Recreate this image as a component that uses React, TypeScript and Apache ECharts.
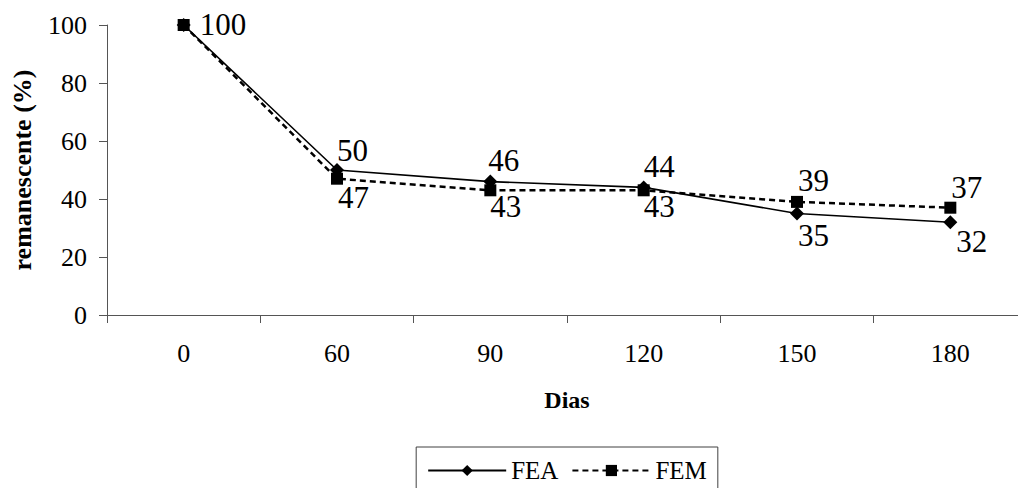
import React, { useEffect, useRef } from "react";
import * as echarts from "echarts";

const categories = ["0", "60", "90", "120", "150", "180"];
const feaValues = [100, 50, 46, 44, 35, 32];
const femValues = [100, 47, 43, 43, 39, 37];
const yTicks = { min: 0, max: 100, interval: 20 };
const seriesNames = ["FEA", "FEM"];

// label offsets relative to the point [dx, dy]; null = no label
const feaLabelOffsets: (number[] | null)[] = [null, [0, -20], [-2, -21], [0, -21], [1, 22], [6, 19]];
const femLabelOffsets: (number[] | null)[] = [[16, -1], [1, 19], [0, 16], [0, 16], [1, -21], [1, -20]];

const FONT = "Liberation Serif";

const richLabel = {
  s: { fontFamily: FONT, fontSize: 31, color: "#000", fontWeight: "normal" },
};

function buildData(values: number[], offsets: (number[] | null)[]) {
  return values.map((v, i) => {
    const off = offsets[i];
    return {
      value: v,
      label: off
        ? {
            show: true,
            position: "inside",
            align: "left",
            verticalAlign: "middle",
            offset: off,
            fontFamily: FONT,
            fontSize: 31,
            color: "#000",
            formatter: "{s|{c}}",
            rich: richLabel,
          }
        : { show: false },
    };
  });
}

export default function App() {
  const ref = useRef<HTMLDivElement>(null);
  useEffect(() => {
    if (!ref.current) return;
    const chart = echarts.init(ref.current, undefined, { renderer: "svg" });
    const labelStyle = {
      color: "#000",
      fontFamily: FONT,
      fontSize: 31,
      formatter: "{s|{c}}",
      rich: richLabel,
    };
    chart.setOption({
      animation: false,
      backgroundColor: "#fff",
      textStyle: { fontFamily: FONT, color: "#000" },
      grid: { left: 107, right: 107, top: 25, bottom: 185 },
      legend: {
        data: seriesNames,
        left: "center",
        top: 447,
        padding: [11, 11],
        borderColor: "#404040",
        borderWidth: 1,
        itemWidth: 78,
        itemHeight: 14,
        itemGap: 13,
        textStyle: { fontFamily: FONT, fontSize: 25, fontWeight: "normal", color: "#000" },
      },
      xAxis: {
        type: "category",
        data: categories,
        boundaryGap: true,
        name: "Dias",
        nameLocation: "middle",
        nameGap: 73,
        nameTextStyle: { fontFamily: FONT, fontSize: 24, fontWeight: "bold", color: "#000" },
        axisLine: { lineStyle: { color: "#555", width: 1 } },
        axisTick: { show: true, length: 8, lineStyle: { color: "#555" } },
        axisLabel: { fontFamily: FONT, fontSize: 26, color: "#000", margin: 25 },
        splitLine: { show: false },
      },
      yAxis: {
        type: "value",
        min: yTicks.min,
        max: yTicks.max,
        interval: yTicks.interval,
        name: "remanescente (%)",
        nameLocation: "middle",
        nameGap: 72,
        nameTextStyle: { fontFamily: FONT, fontSize: 26, fontWeight: "bold", color: "#000" },
        axisLine: { show: true, lineStyle: { color: "#555", width: 1 } },
        axisTick: { show: true, length: 8, lineStyle: { color: "#555" } },
        axisLabel: { fontFamily: FONT, fontSize: 26, color: "#000", margin: 20 },
        splitLine: { show: false },
      },
      series: [
        {
          name: seriesNames[0],
          type: "line",
          data: buildData(feaValues, feaLabelOffsets),
          symbol: "diamond",
          symbolSize: 14,
          itemStyle: { color: "#000" },
          lineStyle: { color: "#000", width: 1.6, type: "solid" },
          label: labelStyle,
          z: 2,
        },
        {
          name: seriesNames[1],
          type: "line",
          data: buildData(femValues, femLabelOffsets),
          symbol: "rect",
          symbolSize: 12,
          itemStyle: { color: "#000" },
          lineStyle: { color: "#000", width: 2.5, type: [6, 4] },
          label: labelStyle,
          z: 3,
        },
      ],
    });
    return () => chart.dispose();
  }, []);
  return (
    <div
      style={{
        position: "absolute",
        left: 0,
        top: 0,
        width: 1018,
        height: 488,
        overflow: "hidden",
        background: "#fff",
      }}
    >
      <div ref={ref} style={{ width: 1134, height: 500 }} />
    </div>
  );
}
